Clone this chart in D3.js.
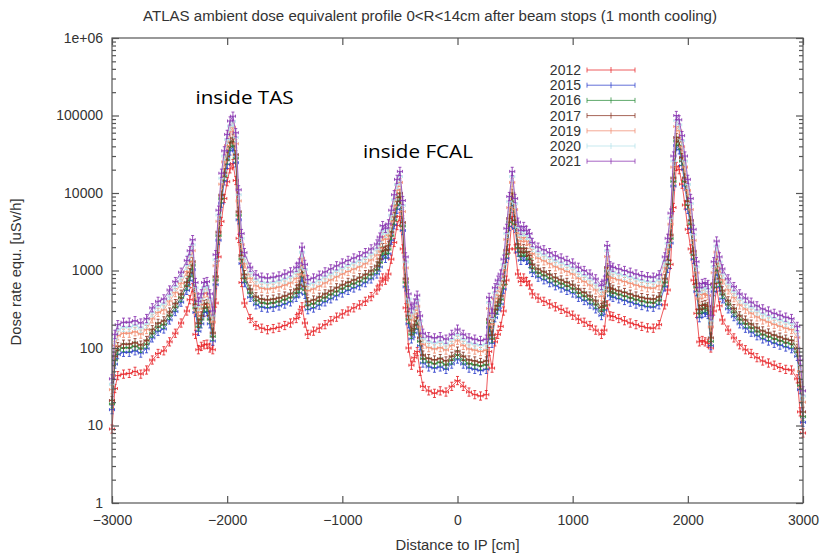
<!DOCTYPE html>
<html><head><meta charset="utf-8">
<script src="https://cdn.jsdelivr.net/npm/d3@7"></script>
<style>body{margin:0;background:#fff}svg{display:block}</style>
</head><body>
<svg id="chart" width="823" height="554"></svg>
<script>
// ---------- data ----------
const positions = [
-3000,-2975,-2950,
-2900,-2850,-2800,-2750,-2700,-2650,-2600,-2550,-2500,-2450,-2400,-2350,
-2325,-2300,-2275,-2250,-2225,-2200,-2175,-2150,-2125,-2100,-2075,-2050,-2025,-2000,-1975,-1950,-1925,-1900,-1875,-1850,
-1800,-1750,-1700,-1650,-1600,-1550,-1500,-1450,-1400,
-1375,-1350,-1325,
-1300,-1250,-1200,-1150,-1100,-1050,-1000,-950,-900,-850,-800,-750,-700,
-675,-650,-625,-600,-575,-550,-525,-500,-475,-450,-425,-400,-375,-350,-325,-300,
-250,-200,-150,-100,-50,0,
50,100,150,200,250,
275,300,325,350,375,400,425,450,475,500,525,550,575,600,625,650,
700,750,800,850,900,950,1000,1050,1100,1150,1200,1250,
1275,1300,1325,
1350,1400,1450,1500,1550,1600,1650,1700,1750,1800,
1825,1850,1875,1900,1925,1950,1975,2000,2025,2050,2075,2100,2125,2150,2175,2200,2225,2250,2275,2300,
2350,2400,2450,2500,2550,2600,2650,2700,2750,2800,2850,2900,2950,
2975,3000];

const years = ["2012","2015","2016","2017","2019","2020","2021"];

const dose2012 = [
9,30,44,
46,47,50,46,52,70,85,92,120,155,210,300,
420,600,150,95,105,110,112,100,95,380,1500,4300,8500,14000,20500,24000,14500,2600,700,380,
240,195,180,172,178,185,195,210,240,
280,340,210,
150,165,180,200,225,250,275,300,330,360,400,460,560,
650,800,750,900,1400,2300,3800,5000,1900,330,100,60,75,90,50,32,
28,26,28,27,32,38,
32,27,25,24,25,
90,55,120,150,190,300,750,1900,5000,1900,900,720,800,720,650,500,
440,400,370,340,315,290,265,235,215,195,170,150,
170,360,260,
255,240,225,210,200,190,182,180,200,360,
560,1200,6500,22000,20000,13000,7000,3400,1900,750,280,120,125,120,115,100,300,600,350,230,
170,135,110,95,85,75,68,64,60,56,53,52,40,
15,8];

const dose2015 = [
16,62,82,
88,88,92,86,98,135,164,176,230,295,390,554,
738,1025,287,164,205,287,295,205,123,656,2460,7380,14350,23400,34850,40200,24600,4510,1230,697,
451,361,336,328,336,349,369,394,451,
513,820,492,
312,328,357,394,431,472,513,554,595,636,697,779,902,
1107,1558,1435,1640,2460,3895,6150,7790,3280,615,205,131,156,197,107,64,
57,55,57,53,62,72,
62,55,53,51,53,
185,115,246,308,369,574,1435,3690,7790,3485,1722,1353,1517,1353,1230,943,
820,759,697,636,595,554,513,451,410,369,320,262,
308,861,472,
451,431,410,390,369,353,340,336,361,615,
1066,2255,12300,41000,36100,22550,12300,6150,3485,1394,533,246,279,287,271,107,533,984,615,431,
320,254,205,180,160,144,131,123,115,109,103,98,78,
29,11];

const dose2016 = [
19,70,94,
101,101,106,99,113,155,188,202,263,338,447,635,
846,1175,329,188,235,329,338,235,141,752,2820,8460,16450,26800,40000,46000,28200,5170,1410,800,
517,414,385,376,385,400,423,451,517,
588,940,564,
357,376,409,451,494,540,588,635,682,729,800,893,1034,
1269,1786,1645,1880,2820,4465,7050,8930,3760,705,235,150,179,226,122,73,
66,63,66,61,70,82,
70,63,61,59,61,
212,132,282,353,423,658,1645,4230,8930,4000,1974,1551,1739,1551,1410,1081,
940,870,800,729,682,635,588,517,470,423,367,301,
353,987,540,
517,494,470,447,423,404,390,385,414,705,
1222,2585,14100,47000,41400,25850,14100,7050,4000,1598,611,282,320,329,310,122,611,1128,705,494,
367,291,235,207,183,165,150,141,132,125,118,113,89,
33,13];

const dose2017 = [
21,78,104,
112,112,117,109,125,172,208,224,291,374,494,702,
936,1300,364,208,260,364,374,260,156,832,3120,9360,18200,29600,44200,51000,31200,5720,1560,884,
572,458,426,416,426,442,468,499,572,
650,1040,624,
395,416,452,499,546,598,650,702,754,806,884,988,1144,
1404,1976,1820,2080,3120,4940,7800,9880,4160,780,260,166,198,250,135,81,
73,70,73,68,78,91,
78,70,68,65,68,
234,146,312,390,468,728,1820,4680,9880,4420,2184,1716,1924,1716,1560,1196,
1040,962,884,806,754,702,650,572,520,468,406,333,
390,1092,598,
572,546,520,494,468,447,432,426,458,780,
1352,2860,15600,52000,45800,28600,15600,7800,4420,1768,676,312,354,364,343,135,676,1248,780,546,
406,322,260,229,203,182,166,156,146,138,130,125,99,
36,15];

const dose2019 = [
29,108,144,
155,155,162,151,173,238,288,310,403,518,684,972,
1300,1800,504,288,360,504,518,360,216,1150,4320,13000,25200,41000,61200,70600,43200,7900,2160,1220,
792,634,590,576,590,612,648,691,792,
900,1440,864,
547,576,626,691,756,828,900,972,1044,1116,1224,1368,1584,
1944,2736,2520,2880,4320,6840,10800,13700,5760,1080,360,230,274,346,187,112,
101,97,101,94,108,126,
108,97,94,90,94,
324,202,432,540,648,1008,2520,6480,13700,6120,3024,2376,2664,2376,2160,1656,
1440,1332,1224,1116,1044,972,900,792,720,648,562,461,
540,1512,828,
792,756,720,684,648,619,598,590,634,1080,
1872,3960,21600,72000,63400,39600,21600,10800,6120,2448,936,432,490,504,475,187,936,1728,1080,756,
562,446,360,317,281,252,230,216,202,191,180,173,137,
50,20];

const dose2020 = [
34,130,170,
185,185,195,180,205,285,345,370,480,620,820,1160,
1550,2150,600,345,430,600,620,430,260,1380,5200,15500,30000,49000,73000,84000,52000,9500,2600,1460,
950,760,700,690,700,730,775,825,950,
1075,1720,1030,
655,690,750,825,900,990,1075,1160,1250,1330,1460,1630,1890,
2320,3270,3010,3440,5160,8170,12900,16300,6900,1290,430,275,327,413,224,133,
120,116,120,112,129,150,
129,116,112,108,112,
387,241,516,645,774,1200,3000,7740,16300,7300,3600,2840,3180,2840,2580,1980,
1720,1590,1460,1330,1250,1160,1075,946,860,774,670,550,
645,1800,990,
946,900,860,817,774,740,714,705,757,1290,
2240,4730,25800,86000,75700,47300,25800,12900,7300,2920,1120,516,585,600,570,224,1120,2060,1290,900,
670,533,430,378,335,300,275,258,240,228,215,206,163,
60,24];

const dose2021 = [
40,150,200,
215,215,225,210,240,330,400,430,560,720,950,1350,
1800,2500,700,400,500,700,720,500,300,1600,6000,18000,35000,57000,85000,98000,60000,11000,3000,1700,
1100,880,820,800,820,850,900,960,1100,
1250,2000,1200,
760,800,870,960,1050,1150,1250,1350,1450,1550,1700,1900,2200,
2700,3800,3500,4000,6000,9500,15000,19000,8000,1500,500,320,380,480,260,155,
140,135,140,130,150,175,
150,135,130,125,130,
450,280,600,750,900,1400,3500,9000,19000,8500,4200,3300,3700,3300,3000,2300,
2000,1850,1700,1550,1450,1350,1250,1100,1000,900,780,640,
750,2100,1150,
1100,1050,1000,950,900,860,830,820,880,1500,
2600,5500,30000,100000,88000,55000,30000,15000,8500,3400,1300,600,680,700,660,260,1300,2400,1500,1050,
780,620,500,440,390,350,320,300,280,265,250,240,190,
70,28];

const seriesValues = [dose2012, dose2015, dose2016, dose2017, dose2019, dose2020, dose2021];
const seriesColors = ["#e8262a","#2f40cc","#2a8c3a","#8a3322","#f08c70","#b4e2ea","#8a32b0"];

const xTickValues = [-3000,-2000,-1000,0,1000,2000,3000];
const yTickValues = [1,10,100,1000,10000,100000,1000000];
const yTickLabels = ["1","10","100","1000","10000","100000","1e+06"];

const titleText = "ATLAS ambient dose equivalent profile 0<R<14cm after beam stops (1 month cooling)";
const xLabelText = "Distance to IP [cm]";
const yLabelText = "Dose rate equ. [uSv/h]";
const annotationTexts = ["inside TAS", "inside FCAL"];
const annotationAt = [[-1945, 98000], [-500, 19000]];

// ---------- drawing ----------
const svg = d3.select("#chart");
const L = 112, R = 803, T = 38, B = 503;
const x = d3.scaleLinear().domain([-3000, 3000]).range([L, R]);
const y = d3.scaleLog().domain([1, 1e6]).range([B, T]);
const axisFont = "'Liberation Sans', Arial, sans-serif";
const textColor = "#333";

// data
const plot = svg.append("g");
seriesValues.forEach((vals, si) => {
  const pts = positions.map((p, i) => [p, vals[i]]).filter(d => d[1] != null);
  const col = seriesColors[si];
  const g = plot.append("g").attr("stroke", col).attr("fill", "none").attr("stroke-opacity", 0.85);
  g.append("path")
    .attr("d", d3.line().x(d => x(d[0])).y(d => y(d[1]))(pts))
    .attr("stroke-width", 0.9);
  let s = "";
  pts.forEach(d => {
    const cx = x(d[0]), cy = y(d[1]);
    const x0 = x(d[0] - 22), x1 = x(d[0] + 22);
    const y0 = y(d[1] / 1.13), y1 = y(d[1] * 1.13);
    s += `M${x0},${cy}H${x1}M${x0},${cy-1.5}V${cy+1.5}M${x1},${cy-1.5}V${cy+1.5}`;
    s += `M${cx},${y0}V${y1}M${cx-1.5},${y0}H${cx+1.5}M${cx-1.5},${y1}H${cx+1.5}`;
  });
  g.append("path").attr("d", s).attr("stroke-width", 1);
});

// frame
svg.append("rect").attr("x", L).attr("y", T).attr("width", R - L).attr("height", B - T)
  .attr("fill", "none").attr("stroke", "#555").attr("stroke-width", 1.2);

// axes
function styleAxis(g) {
  g.select(".domain").remove();
  g.selectAll(".tick line").attr("stroke", "#555").attr("stroke-width", 1.2);
  g.selectAll("text").attr("fill", textColor).style("font-family", axisFont).style("font-size", "14px");
}
svg.append("g").attr("transform", `translate(0,${B})`)
  .call(d3.axisBottom(x).tickValues(xTickValues).tickFormat(d3.format("d")).tickSizeInner(-7).tickSizeOuter(0).tickPadding(12))
  .call(styleAxis);
svg.append("g").attr("transform", `translate(0,${T})`)
  .call(d3.axisTop(x).tickValues(xTickValues).tickFormat("").tickSizeInner(-7).tickSizeOuter(0))
  .call(styleAxis);
svg.append("g").attr("transform", `translate(${L},0)`)
  .call(d3.axisLeft(y).tickValues(yTickValues).tickFormat((d, i) => yTickLabels[i]).tickSizeInner(-7).tickSizeOuter(0).tickPadding(9))
  .call(styleAxis);
svg.append("g").attr("transform", `translate(${R},0)`)
  .call(d3.axisRight(y).tickValues(yTickValues).tickFormat("").tickSizeInner(-7).tickSizeOuter(0))
  .call(styleAxis);

// minor log ticks
const minor = [];
for (let k = 0; k < 6; k++) for (let m = 2; m <= 9; m++) minor.push(m * Math.pow(10, k));
svg.append("g").attr("transform", `translate(${L},0)`)
  .call(d3.axisLeft(y).tickValues(minor).tickFormat("").tickSizeInner(-4).tickSizeOuter(0))
  .call(styleAxis);
svg.append("g").attr("transform", `translate(${R},0)`)
  .call(d3.axisRight(y).tickValues(minor).tickFormat("").tickSizeInner(-4).tickSizeOuter(0))
  .call(styleAxis);

// titles
svg.append("text").attr("x", 430).attr("y", 21).attr("text-anchor", "middle")
  .attr("textLength", 574).attr("lengthAdjust", "spacingAndGlyphs")
  .style("font-family", axisFont).style("font-size", "14px").attr("fill", textColor).text(titleText);
svg.append("text").attr("x", (L + R) / 2).attr("y", 550).attr("text-anchor", "middle")
  .attr("textLength", 124).attr("lengthAdjust", "spacingAndGlyphs")
  .style("font-family", axisFont).style("font-size", "14px").attr("fill", textColor).text(xLabelText);
svg.append("text").attr("transform", "translate(21,272) rotate(-90)").attr("text-anchor", "middle")
  .attr("textLength", 147).attr("lengthAdjust", "spacingAndGlyphs")
  .style("font-family", axisFont).style("font-size", "14px").attr("fill", textColor).text(yLabelText);

// annotations
const annoOffset = [[-38, -12], [-37, -13]];
const annoWidth = [98, 110];
annotationTexts.forEach((t, i) => {
  svg.append("text")
    .attr("x", x(annotationAt[i][0]) + annoOffset[i][0])
    .attr("y", y(annotationAt[i][1]) + annoOffset[i][1])
    .attr("textLength", annoWidth[i]).attr("lengthAdjust", "spacingAndGlyphs")
    .style("font-family", "'Open Sans', Lato, sans-serif").style("font-size", "19px")
    .attr("fill", "#000").text(t);
});

// legend
const leg = svg.append("g");
years.forEach((yr, i) => {
  const cy = 70 + i * 15.2;
  leg.append("text").attr("x", 581).attr("y", cy).attr("dy", "0.35em").attr("text-anchor", "end")
    .style("font-family", axisFont).style("font-size", "14px").attr("fill", textColor).text(yr);
  const c = seriesColors[i];
  leg.append("path")
    .attr("d", `M587,${cy}H635M587,${cy-2.5}V${cy+2.5}M635,${cy-2.5}V${cy+2.5}M611,${cy-3}V${cy+3}`)
    .attr("stroke", c).attr("stroke-opacity", 0.75).attr("fill", "none").attr("stroke-width", 1);
});
</script>
</body></html>
